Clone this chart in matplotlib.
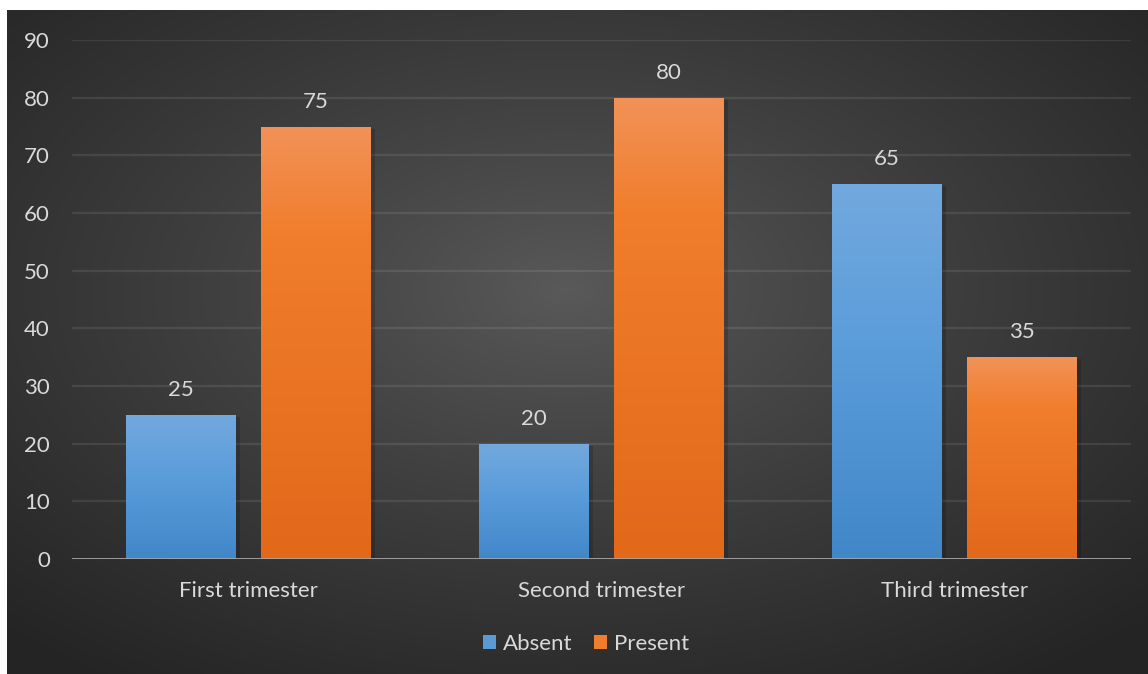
import numpy as np
import matplotlib
matplotlib.use("Agg")
import matplotlib.pyplot as plt
from matplotlib.colors import LinearSegmentedColormap
from matplotlib.patches import Patch

categories = ["First trimester", "Second trimester", "Third trimester"]
absent = [25, 20, 65]
present = [75, 80, 35]
series_names = ["Absent", "Present"]
yticks = [0, 10, 20, 30, 40, 50, 60, 70, 80, 90]

W, H = 1148, 674
fig = plt.figure(figsize=(W / 100, H / 100), dpi=100, facecolor="white")
plt.rcParams["font.family"] = ["Lato", "DejaVu Sans"]
FS = 16

# background panel with radial gradient
bg = fig.add_axes([7 / W, 0, 1 - 7 / W, (H - 10) / H])
bg.set_axis_off()
ny, nx = 300, 500
yy, xx = np.mgrid[0:ny, 0:nx]
cx, cy = nx * 0.49, ny * 0.42
r = np.sqrt(((xx - cx) / nx) ** 2 + ((yy - cy) / ny) ** 2) / 0.72
r = np.clip(r, 0, 1)
val = (90 - (90 - 36) * r ** 0.85) / 255
bg.imshow(np.dstack([val, val, val]), aspect="auto", extent=[0, 1, 0, 1], origin="upper")
bg.set_xlim(0, 1)
bg.set_ylim(0, 1)

ax = fig.add_axes([72 / W, 115 / H, (1131 - 72) / W, 519 / H])
ax.set_facecolor("none")
for s in ax.spines.values():
    s.set_visible(False)

x = np.arange(len(categories))
bw = 110 / 353
off = bw / 2 + (25 / 353) / 2

blue_cmap = LinearSegmentedColormap.from_list("b", [(0, "#72A9DE"), (0.45, "#5A9CDA"), (1, "#4187C8")])
orange_cmap = LinearSegmentedColormap.from_list("o", [(0, "#F29258"), (0.25, "#F07E2C"), (1, "#E2681A")])

grad = np.linspace(0, 1, 256).reshape(-1, 1)
for vals, dx, cmap, col in [(absent, -off, blue_cmap, "#5B9BD5"), (present, off, orange_cmap, "#ED7D31")]:
    bars = ax.bar(x + dx, vals, width=bw, color=col, zorder=3, linewidth=0)
    for b, v in zip(bars, vals):
        x0, y0 = b.get_x(), b.get_y()
        w, h = b.get_width(), b.get_height()
        # subtle shadow
        ax.bar(x0 + w / 2 + 0.012, h, width=w, bottom=y0 - 0.4, color="black", alpha=0.16, zorder=2, linewidth=0)
        im = ax.imshow(grad, cmap=cmap, extent=[x0, x0 + w, y0, y0 + h], origin="upper",
                       aspect="auto", zorder=3.5)
        im.set_clip_path(b)
        ax.annotate(str(v), (x0 + w / 2, y0 + h), xytext=(0, 18), textcoords="offset points",
                    ha="center", va="center", color="#D9D9D9", fontsize=FS)

ax.set_xlim(-0.5, 2.5)
ax.set_ylim(0, 90)
ax.set_yticks(yticks)
ax.set_yticklabels([str(t) for t in yticks])
ax.set_xticks(x)
ax.set_xticklabels(categories)
ax.tick_params(axis="y", length=0, pad=16, labelsize=FS, labelcolor="#D9D9D9")
ax.tick_params(axis="x", length=0, pad=16, labelsize=FS, labelcolor="#D9D9D9")
for t in yticks[1:]:
    ax.axhline(t, color="#FFFFFF", alpha=0.09, lw=1.6, zorder=1)
ax.axhline(0, color="#A6A6A6", lw=2, zorder=4)

handles = [Patch(facecolor="#5B9BD5", edgecolor="none"), Patch(facecolor="#F07E2C", edgecolor="none")]
fig.legend(handles, series_names, loc="center", bbox_to_anchor=(586 / W, 1 - 644 / H), ncol=2,
           frameon=False, fontsize=FS, labelcolor="#D9D9D9", handlelength=0.6, handleheight=0.6,
           handletextpad=0.3, columnspacing=0.95)

fig.savefig("out.png", dpi=100, facecolor="white")
